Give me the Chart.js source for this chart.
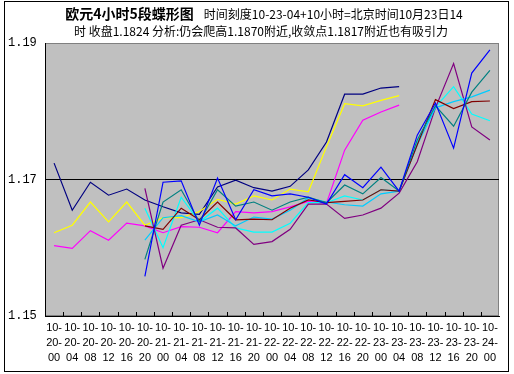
<!DOCTYPE html>
<html><head><meta charset="utf-8">
<script src="https://cdn.jsdelivr.net/npm/chart.js@4.4.1/dist/chart.umd.min.js"></script>
<style>html,body{margin:0;padding:0;background:#fff}#wrap{width:514px;height:374px}</style>
</head><body><div id="wrap"><canvas id="c" width="514" height="374"></canvas></div>
<script>
const titleBold = '欧元4小时5段蝶形图';
const titleRest = '时间刻度10-23-04+10小时=北京时间10月23日14';
const titleLine2 = '时 收盘1.1824 分析:仍会爬高1.1870附近,收敛点1.1817附近也有吸引力';

const categories = [
  '10-20-00','10-20-04','10-20-08','10-20-12','10-20-16','10-20-20',
  '10-21-00','10-21-04','10-21-08','10-21-12','10-21-16','10-21-20',
  '10-22-00','10-22-04','10-22-08','10-22-12','10-22-16','10-22-20',
  '10-23-00','10-23-04','10-23-08','10-23-12','10-23-16','10-23-20',
  '10-24-00'
];
const yTicks = [1.15, 1.17, 1.19];
const refLevel = 1.17;

const _ = null;
const navySeries    = [1.1724,1.1655,1.1696,1.1677,1.1686,1.1670,1.1660,1.1651,1.1649,1.1689,1.1699,1.1688,1.1683,1.1690,1.1714,1.1755,1.1825,1.1825,1.1834,1.1836,_,_,_,_,_];
const magentaSeries = [1.1603,1.1599,1.1625,1.1611,1.1636,1.1632,1.1622,1.1631,1.1630,1.1622,1.1653,1.1651,1.1653,1.1660,1.1668,1.1665,1.1743,1.1787,1.1799,1.1809,_,_,_,_,_];
const yellowSeries  = [1.1622,1.1633,1.1667,1.1638,1.1667,1.1633,1.1644,1.1644,1.1653,1.1671,1.1664,1.1676,1.1670,1.1686,1.1682,1.1748,1.1811,1.1808,1.1816,1.1823,_,_,_,_,_];
const cyanSeries    = [_,_,_,_,_,1.1658,1.1600,1.1674,1.1638,1.1658,1.1629,1.1623,1.1623,1.1636,1.1666,1.1666,1.1676,1.1670,1.1685,1.1683,1.1755,1.1806,1.1836,1.1796,1.1786];
const purpleSeries  = [_,_,_,_,_,1.1687,1.1570,1.1633,1.1641,1.1630,1.1629,1.1605,1.1609,1.1627,1.1664,1.1664,1.1643,1.1648,1.1658,1.1680,1.1726,1.1805,1.1870,1.1777,1.1758];
const maroonSeries  = [_,_,_,_,_,1.1632,1.1627,1.1658,1.1641,1.1667,1.1641,1.1642,1.1641,1.1658,1.1670,1.1666,1.1668,1.1670,1.1685,1.1683,1.1751,1.1817,1.1804,1.1814,1.1815];
const tealSeries    = [_,_,_,_,_,1.1583,1.1667,1.1685,1.1638,1.1685,1.1661,1.1667,1.1655,1.1667,1.1674,1.1666,1.1692,1.1679,1.1703,1.1683,1.1758,1.1808,1.1778,1.1828,1.1860];
const blueSeries    = [_,_,_,_,_,1.1558,1.1696,1.1698,1.1633,1.1702,1.1641,1.1685,1.1676,1.1679,1.1674,1.1664,1.1707,1.1688,1.1718,1.1683,1.1765,1.1812,1.1746,1.1856,1.1890];
const skySeries     = [_,_,_,_,_,1.1611,1.1644,1.1647,1.1638,1.1648,1.1632,1.1645,1.1642,1.1655,1.1673,1.1667,1.1663,1.1661,1.1679,1.1683,1.1751,1.1805,1.1814,1.1821,1.1831];

function ds(data, color){
  return {data: data, borderColor: color, backgroundColor: color, borderWidth: 1.2,
          pointRadius: 0, tension: 0, fill: false, spanGaps: false};
}

const bgPlugin = {
  id: 'bg',
  beforeDraw(chart){
    const {ctx, chartArea: a} = chart;
    ctx.save();
    ctx.fillStyle = '#fff';
    ctx.fillRect(0,0,chart.width,chart.height);
    ctx.fillStyle = '#C0C0C0';
    ctx.fillRect(a.left, a.top, a.right - a.left, a.bottom - a.top);
    ctx.strokeStyle = '#808080';
    ctx.lineWidth = 1;
    ctx.strokeRect(a.left + 0.5, a.top + 0.5, a.right - a.left - 1, a.bottom - a.top - 1);
    ctx.restore();
  },
  afterDraw(chart){
    const {ctx, chartArea: a} = chart;
    const xs = chart.scales.x;
    ctx.save();
    // inner tick marks at category boundaries
    ctx.strokeStyle = '#000';
    ctx.lineWidth = 1;
    ctx.beginPath();
    for (let i = 1; i < categories.length; i++){
      const px = Math.round((xs.getPixelForValue(i-1) + xs.getPixelForValue(i)) / 2) + 0.5;
      ctx.moveTo(px, a.bottom);
      ctx.lineTo(px, a.bottom - 4);
    }
    ctx.stroke();
    // frame
    ctx.strokeRect(4.5, 1.5, 504, 370);
    // title
    ctx.fillStyle = '#000';
    ctx.textBaseline = 'middle';
    ctx.textAlign = 'left';
    const fb = 'bold 14px "Noto Sans CJK SC", sans-serif';
    const fn = '12px "Noto Sans CJK SC", sans-serif';
    ctx.font = fb; const wb = ctx.measureText(titleBold).width;
    ctx.font = fn; const wn = ctx.measureText(titleRest).width;
    const gap = 10;
    let x0 = 264 - (wb + gap + wn) / 2;
    ctx.font = fb; ctx.fillText(titleBold, x0, 14);
    ctx.font = fn; ctx.fillText(titleRest, x0 + wb + gap, 14);
    ctx.textAlign = 'center';
    ctx.fillText(titleLine2, 261, 31);
    ctx.restore();
  }
};

new Chart(document.getElementById('c'), {
  type: 'line',
  data: {
    labels: categories,
    datasets: [
      ds(blueSeries, '#0000FF'),
      ds(tealSeries, '#008080'),
      ds(maroonSeries, '#800000'),
      ds(skySeries, '#00CCFF'),
      ds(purpleSeries, '#800080'),
      ds(cyanSeries, '#00FFFF'),
      ds(yellowSeries, '#FFFF00'),
      ds(magentaSeries, '#FF00FF'),
      ds(navySeries, '#000080')
    ]
  },
  options: {
    responsive: false,
    animation: false,
    devicePixelRatio: 1,
    layout: {padding: {top: 43, left: 8, right: 15, bottom: 0}},
    plugins: {legend: {display: false}, tooltip: {enabled: false}, title: {display: false}},
    scales: {
      x: {
        type: 'category',
        offset: true,
        grid: {display: false, drawTicks: false},
        border: {display: true, color: '#000', width: 1},
        ticks: {
          autoSkip: false, maxRotation: 0, minRotation: 0, padding: 4, color: '#000',
          font: {family: '"Liberation Sans", sans-serif', size: 11, lineHeight: '15px'},
          callback: function(v, i){ const s = categories[i]; return [s.slice(0,3), s.slice(3,6), s.slice(6)]; }
        },
        afterFit(scale){ scale.height = 58; }
      },
      y: {
        min: 1.15, max: 1.19,
        afterBuildTicks(scale){ scale.ticks = yTicks.map(v => ({value: v})); },
        grid: {
          drawTicks: false,
          color: ctx => (ctx.tick && Math.abs(ctx.tick.value - refLevel) < 1e-6) ? '#000' : 'rgba(0,0,0,0)',
          lineWidth: 1
        },
        border: {display: true, color: '#000', width: 1},
        ticks: {
          crossAlign: 'far', padding: 0, color: '#000',
          font: {family: '"Liberation Mono", monospace', size: 12},
          callback: v => Number(v).toFixed(2)
        },
        afterFit(scale){ scale.width = 37; }
      }
    }
  },
  plugins: [bgPlugin]
});
</script>
</body></html>
